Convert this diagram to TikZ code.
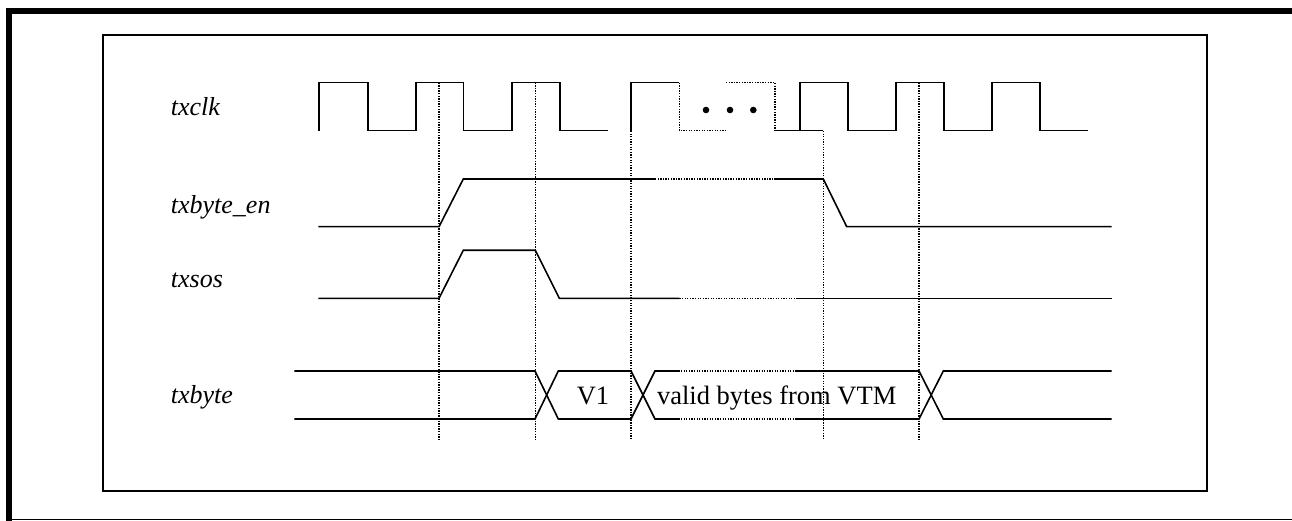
\documentclass[tikz,border=0pt]{standalone}
\usepackage{fontspec}
\setmainfont{Liberation Serif}
\begin{document}
\begin{tikzpicture}[x=1pt,y=-1pt,
  sig/.style={line width=1.6pt,line join=miter},
  sigdot/.style={line width=1.3pt,dash pattern=on 1.3pt off 1.3pt},
  guide/.style={line width=1.3pt,dash pattern=on 1.3pt off 1.3pt},
  lbl/.style={anchor=base west,inner sep=0pt,font=\fontsize{26}{30}\selectfont\itshape},
  txt/.style={anchor=base,inner sep=0pt,font=\fontsize{26.5}{30}\selectfont}]
\useasboundingbox (0,0) rectangle (1292,521);
% outer border
\draw[line width=6pt] (9,521) -- (9,11) -- (1292,11);
\draw[line width=1pt] (6,519.5) -- (1292,519.5);
% inner frame
\draw[line width=2pt] (103,35) rectangle (1206.5,490.5);
% labels
\node[lbl] (lclk) at (170.7,116) {txclk};
\node[lbl] (len) at (170.7,213.3) {txbyte\_en};
\node[lbl] (lsos) at (170.7,287.5) {txsos};
\node[lbl] (lbyte) at (170.7,403.5) {txbyte};
% guide lines
\foreach \x/\t in {439/82.7,535.3/82.7,631/131,823.3/131,919/82.7}
  \draw[guide] (\x,\t) -- (\x,440);
% clock
\draw[sig] (319,130.7) -- (319,82.7) -- (368,82.7) -- (368,130.7) -- (415.7,130.7) -- (415.7,82.7) -- (463.3,82.7) -- (463.3,130.7) -- (511.7,130.7) -- (511.7,82.7) -- (559.7,82.7) -- (559.7,130.7) -- (608,130.7);
\draw[sig] (631,130.7) -- (631,82.7) -- (679.3,82.7);
\draw[sigdot] (679.3,82.7) -- (679.3,130.7) -- (726,130.7);
\draw[sigdot] (726,82.7) -- (775,82.7) -- (775,130.7);
\draw[sig] (775,130.7) -- (823.3,130.7);
\draw[sig] (800,130.7) -- (800,82.7) -- (847.7,82.7) -- (847.7,130.7) -- (895.7,130.7) -- (895.7,82.7) -- (944,82.7) -- (944,130.7) -- (991.7,130.7) -- (991.7,82.7) -- (1040,82.7) -- (1040,130.7) -- (1088.3,130.7);
\foreach \x in {706,730,753.3} \fill (\x,110) circle (3.3pt);
% txbyte_en
\draw[sig] (318.3,226.7) -- (439,226.7) -- (463.3,179) -- (655,179);
\draw[sigdot] (655,179) -- (774,179);
\draw[sig] (774,179) -- (823.3,179) -- (846.7,226.7) -- (1111.7,226.7);
% txsos
\draw[sig] (318.3,298.3) -- (439,298.3) -- (463.3,250.3) -- (535.3,250.3) -- (559.3,298.3) -- (679.3,298.3);
\draw[sigdot] (679.3,298.3) -- (797.3,298.3);
\draw[sig] (797.3,298.3) -- (1111.7,298.3);
% txbyte bus
\draw[sig] (294.3,371) -- (535,371) -- (558.3,419) -- (631,419) -- (655,371) -- (678.3,371);
\draw[sig] (294.3,419) -- (535,419) -- (558.3,371) -- (631,371) -- (655,419) -- (678.3,419);
\draw[sigdot] (678.3,371) -- (796.7,371);
\draw[sigdot] (678.3,419) -- (796.7,419);
\draw[sig] (796.7,371) -- (919,371) -- (943.3,419) -- (1111.7,419);
\draw[sig] (796.7,419) -- (919,419) -- (943.3,371) -- (1111.7,371);
\node[txt] (v1) at (593,404) {V1};
\node[txt] (vb) at (776.7,404) {valid bytes from VTM};
\end{tikzpicture}
\end{document}
